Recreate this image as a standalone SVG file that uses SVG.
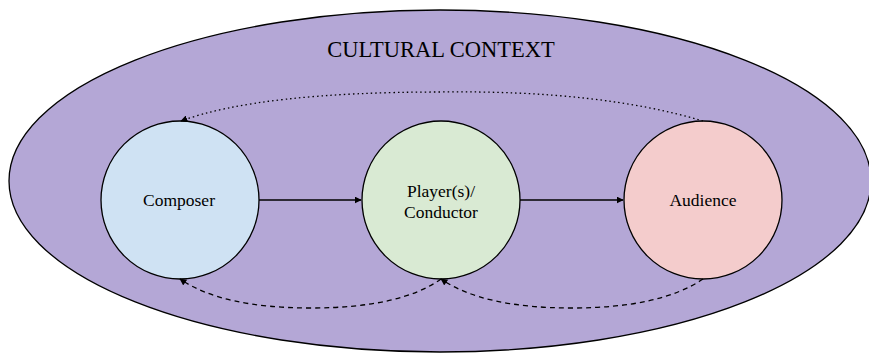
<svg xmlns="http://www.w3.org/2000/svg" width="869" height="353" viewBox="0 0 869 353">
<style>
.lbl{font-family:"Liberation Serif","Times New Roman",serif;fill:#000;text-anchor:middle}
.node{stroke:#000;stroke-width:1.3}
.conn{fill:none;stroke:#000;stroke-width:1.3}
</style>
<defs>
<marker id="ah" viewBox="0 0 10 10" refX="9" refY="5" markerWidth="7" markerHeight="7" markerUnits="userSpaceOnUse" orient="auto"><path d="M0,0 L10,5 L0,10 z" fill="#000"/></marker>
</defs>
<rect width="869" height="353" fill="#fff"/>
<g id="context">
<ellipse cx="440" cy="181" rx="431" ry="171" fill="#b4a7d6" stroke="#000" stroke-width="1.3"/>
<text class="lbl" x="441" y="57" font-size="22.5">CULTURAL CONTEXT</text>
</g>
<g id="composer">
<circle class="node" cx="180" cy="200" r="79" fill="#cfe2f3"/>
<text class="lbl" x="179" y="206" font-size="17.5">Composer</text>
</g>
<g id="player">
<circle class="node" cx="441" cy="200" r="79" fill="#d9ead3"/>
<text class="lbl" x="441" y="197" font-size="17.5">Player(s)/</text>
<text class="lbl" x="441" y="218" font-size="17.5">Conductor</text>
</g>
<g id="audience">
<circle class="node" cx="703" cy="200" r="79" fill="#f4cccc"/>
<text class="lbl" x="703" y="206" font-size="17.5">Audience</text>
</g>
<g id="connectors">
<line class="conn" x1="259" y1="200" x2="361" y2="200" marker-end="url(#ah)"/>
<line class="conn" x1="520" y1="200" x2="623" y2="200" marker-end="url(#ah)"/>
<path class="conn" d="M703,121 Q600,90 441,92 Q260,92 181,121" stroke-dasharray="1.5,3" marker-end="url(#ah)"/>
<path class="conn" d="M441,279 Q400,308 311,308 Q222,308 180,279" stroke-dasharray="5,4" marker-end="url(#ah)"/>
<path class="conn" d="M703,279 Q660,308 572,308 Q483,308 441,279" stroke-dasharray="5,4" marker-end="url(#ah)"/>
</g>
</svg>
